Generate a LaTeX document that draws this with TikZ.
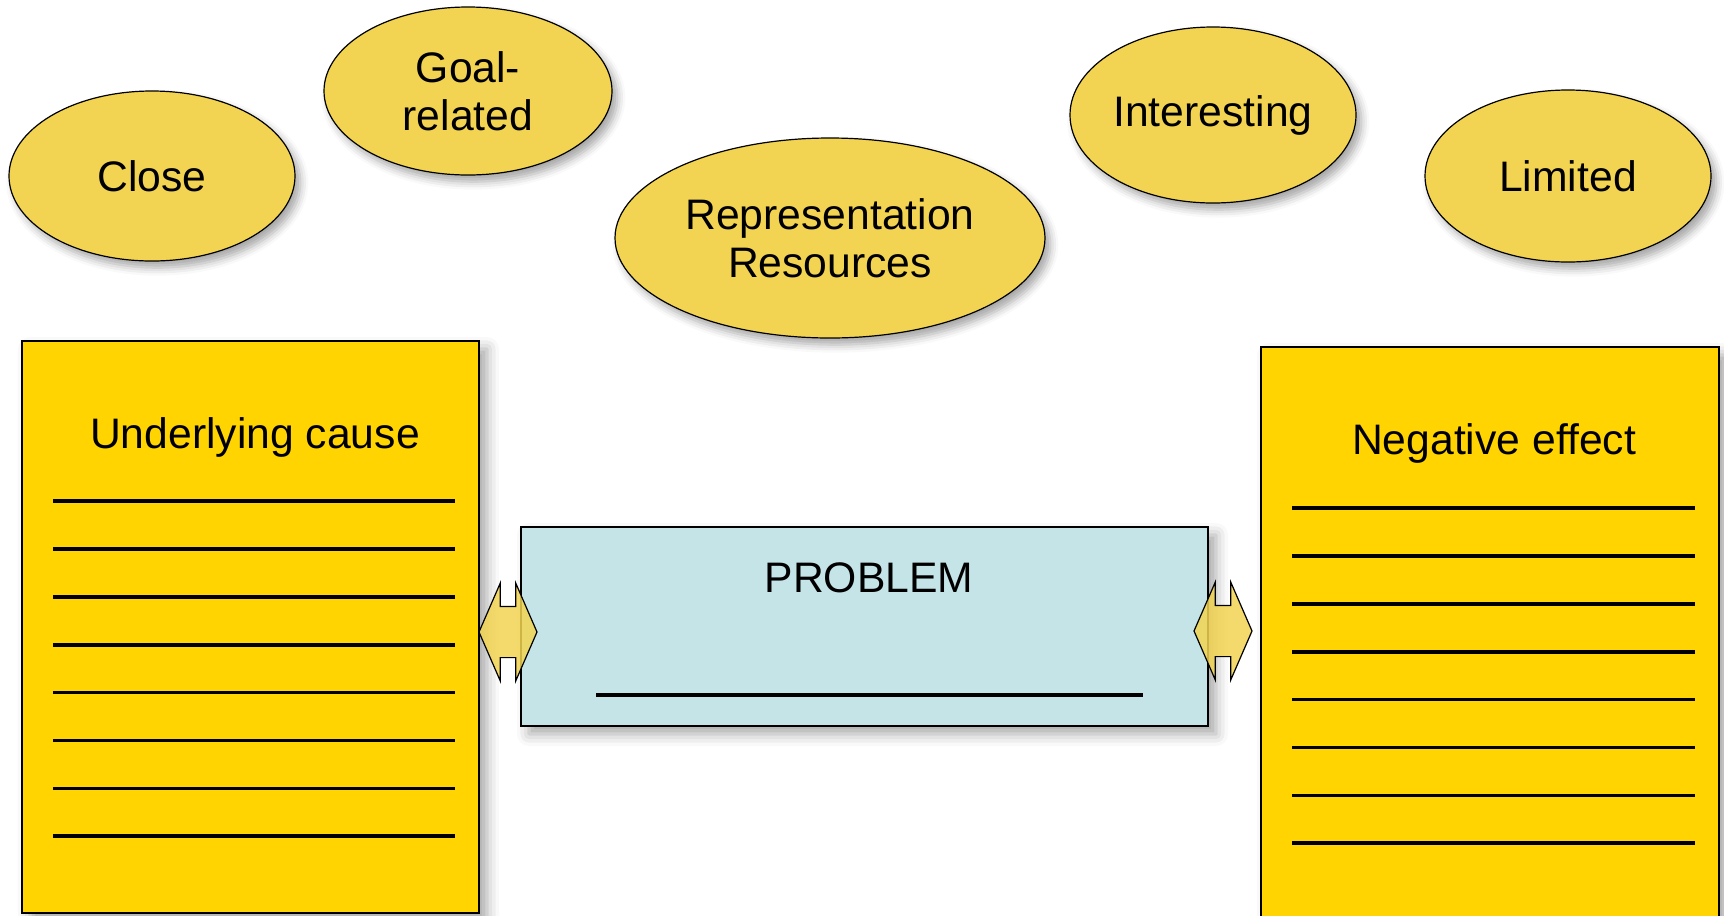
\documentclass[tikz,border=0pt]{standalone}
\usepackage{fontspec}
\setmainfont{Liberation Sans}
\usetikzlibrary{shapes.geometric,shapes.arrows,shadows.blur}

\definecolor{bubbleyellow}{RGB}{242,212,82}
\definecolor{notegold}{RGB}{255,212,0}
\definecolor{problemblue}{RGB}{196,228,232}

\tikzset{
  bubble/.style={ellipse, draw=black, line width=0.9pt, fill=bubbleyellow, inner sep=0pt, align=center,
    font=\fontsize{32}{36}\selectfont,
    blur shadow={shadow xshift=4pt, shadow yshift=-5pt, shadow blur radius=6pt, shadow opacity=35}},
  notebox/.style={rectangle, draw=black, line width=1.1pt, fill=notegold, inner sep=0pt,
    blur shadow={shadow xshift=6pt, shadow yshift=-6pt, shadow blur radius=9pt, shadow opacity=35}},
  problembox/.style={notebox, fill=problemblue},
  boxtext/.style={font=\fontsize{32}{36}\selectfont, inner sep=0.75pt},
  blank/.style={line width=2.8pt},
  dblarrow/.style={double arrow, draw=black, line width=0.9pt, fill=bubbleyellow, fill opacity=0.85,
    minimum height=43.5pt, inner xsep=0pt, inner ysep=18.75pt,
    double arrow head extend=17.6pt, double arrow tip angle=133}
}

\begin{document}
\begin{tikzpicture}[x=0.75pt,y=0.75pt,yscale=-1]
\clip (0,0) rectangle (1724,915);

% Ellipses
\node[bubble, minimum width=214.5pt, minimum height=127.5pt] (close) at (152,176) {Close};
\node[bubble, minimum width=216pt, minimum height=126pt] (goal) at (468,91) {Goal-\\related};
\node[bubble, minimum width=322.5pt, minimum height=150pt] (represent) at (830,238) {Representation\\Resources};
\node[bubble, minimum width=214.5pt, minimum height=132pt] (interest) at (1213,115) {Interesting};
\node[bubble, minimum width=214.5pt, minimum height=129pt] (limited) at (1568,176) {Limited};

% Cause box
\node[notebox, minimum width=342.75pt, minimum height=429pt] (cause) at (250.5,627) {};
\node[boxtext] (causetitle) at (255,437) {Underlying cause};
\foreach \k in {0,...,7}
  \draw[blank] (53,{501+47.9*\k}) -- (455,{501+47.9*\k});

% Effect box
\node[notebox, minimum width=343.5pt, minimum height=441pt] (effect) at (1490,641) {};
\node[boxtext] (effecttitle) at (1494,443) {Negative effect};
\foreach \k in {0,...,7}
  \draw[blank] (1292,{508+47.9*\k}) -- (1695,{508+47.9*\k});

% Problem box
\node[problembox, minimum width=515.25pt, minimum height=149.25pt] (problem) at (864.5,626.5) {};
\node[boxtext] (problemtitle) at (869,578) {PROBLEM};
\draw[blank] (596,695) -- (1143,695);

% Double arrows
\node[dblarrow] (arrleft) at (508,632) {};
\node[dblarrow] (arrright) at (1223,631) {};

\end{tikzpicture}
\end{document}
